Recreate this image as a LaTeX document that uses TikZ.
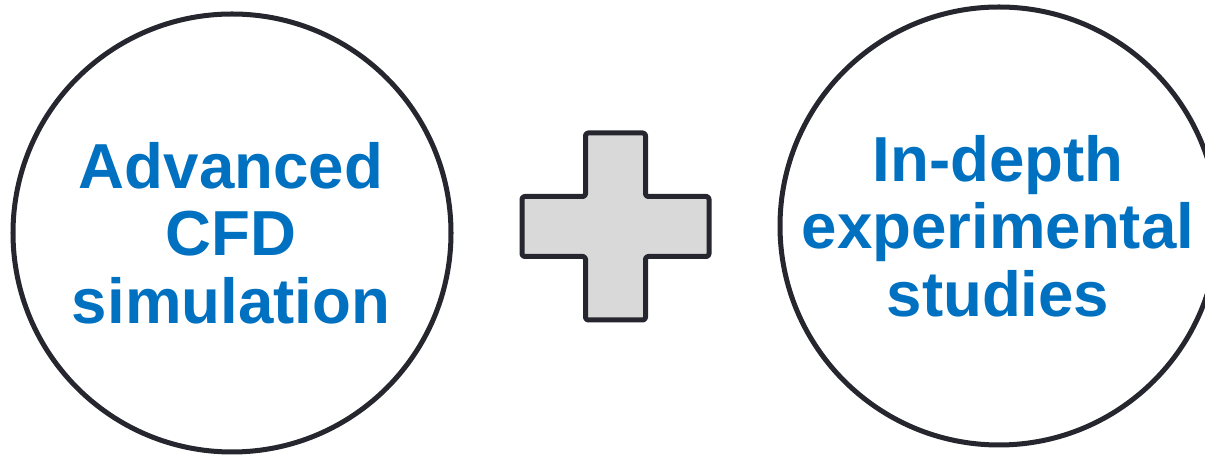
\documentclass[tikz,border=0pt]{standalone}
\usepackage{fontspec}
\setmainfont{Liberation Sans}
\usepackage{tikz}
\usetikzlibrary{positioning}
\definecolor{cBlue}{HTML}{0070C0}
\definecolor{cInk}{HTML}{26262F}
\definecolor{cFill}{HTML}{D9D9D9}

\begin{document}
\begin{tikzpicture}[
          ring/.style={draw=cInk, line width=2.85pt, circle, minimum size=8.76cm, inner sep=0pt},
          topic/.style={text=cBlue, align=center, inner sep=0pt,
            font=\fontsize{36.2pt}{38.5pt}\selectfont\bfseries},
          plusbar/.style={draw=cInk, line width=2.85pt, fill=cFill, rounded corners=1.5pt, line join=round}]
        \useasboundingbox (0,0) rectangle (24.1,9.1);
        \clip (0,0) rectangle (24.1,9.1);
        % left: simulation
        \node[ring] (lring) at (4.64,4.44) {};
        \node[topic] (ltext) at (4.62,4.44) {Advanced\\CFD\\simulation};
        % right: experiments
        \node[ring] (rring) at (19.98,4.58) {};
        \node[topic] (rtext) at (19.96,4.58) {In-depth\\experimental\\studies};
        % plus sign in between
        \coordinate (plus) at (12.31,4.57);
        \draw[plusbar] ([xshift=-0.6cm, yshift=1.87cm]plus) -- ++(1.2,0) -- ++(0,-1.27)
          -- ++(1.27,0) -- ++(0,-1.2) -- ++(-1.27,0) -- ++(0,-1.27) -- ++(-1.2,0)
          -- ++(0,1.27) -- ++(-1.27,0) -- ++(0,1.2) -- ++(1.27,0) -- cycle;
      \end{tikzpicture}
\end{document}
